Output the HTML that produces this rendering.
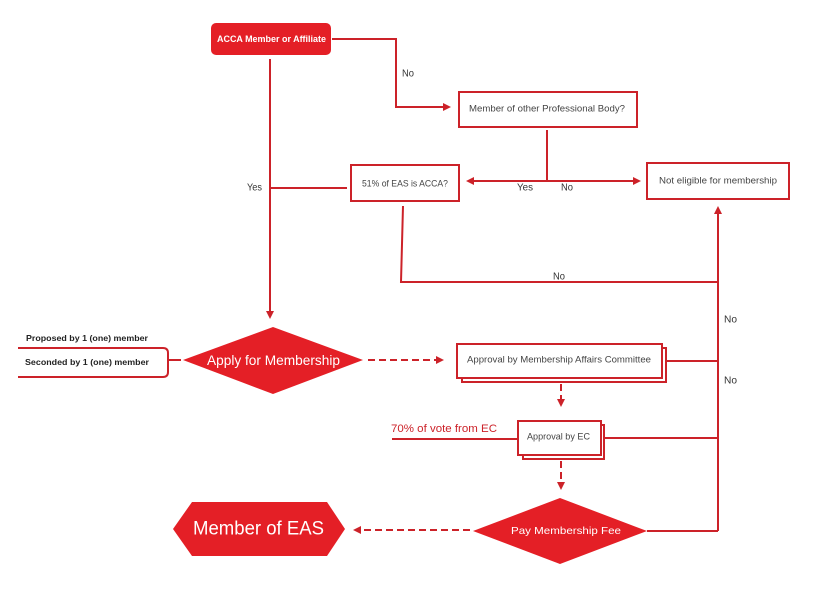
<!DOCTYPE html>
<html><head><meta charset="utf-8"><style>
html,body{margin:0;padding:0;background:#fff;}
svg{display:block;}
text{font-family:"Liberation Sans",sans-serif;}
</style></head><body>
<svg width="818" height="600" viewBox="0 0 818 600" xmlns="http://www.w3.org/2000/svg">
<g fill="none" stroke="#cc2229" stroke-width="2">
  <!-- ACCA to No branch -->
  <polyline points="332,39 396,39 396,107 444,107"/>
  <!-- ACCA down to Apply -->
  <line x1="270" y1="59" x2="270" y2="312"/>
  <!-- 51% to left -->
  <line x1="270" y1="188" x2="347" y2="188"/>
  <!-- other prof body down -->
  <line x1="547" y1="130" x2="547" y2="181"/>
  <line x1="473" y1="181" x2="634" y2="181"/>
  <!-- 51% down & across -->
  <polyline points="403,206 401,282 718,282"/>
  <!-- right vertical -->
  <line x1="718" y1="213" x2="718" y2="531"/>
  <line x1="666" y1="361" x2="718" y2="361"/>
  <line x1="604" y1="438" x2="718" y2="438"/>
  <line x1="647" y1="531" x2="718" y2="531"/>
  <!-- 70% line -->
  <line x1="392" y1="439" x2="518" y2="439"/>
  <!-- bracket -->
  <path d="M18,348 H163 Q168,348 168,353 V372 Q168,377 163,377 H18"/>
  <line x1="168" y1="360" x2="181" y2="360"/>
  <!-- boxes -->
  <rect x="459" y="92" width="178" height="35" fill="#fff"/>
  <rect x="351" y="165" width="108" height="36" fill="#fff"/>
  <rect x="647" y="163" width="142" height="36" fill="#fff"/>
  <rect x="462" y="348" width="204" height="34" fill="#fff"/>
  <rect x="457" y="344" width="205" height="34" fill="#fff"/>
  <rect x="523" y="425" width="81" height="34" fill="#fff"/>
  <rect x="518" y="421" width="83" height="34" fill="#fff"/>
</g>
<g fill="none" stroke="#cc2229" stroke-width="2" stroke-dasharray="7,4">
  <line x1="368" y1="360" x2="437" y2="360"/>
  <line x1="561" y1="384" x2="561" y2="400"/>
  <line x1="561" y1="461" x2="561" y2="483"/>
  <line x1="470" y1="530" x2="360" y2="530"/>
</g>
<g fill="#cc2229">
  <polygon points="451,107 443,103 443,111"/>
  <polygon points="466,181 474,177 474,185"/>
  <polygon points="641,181 633,177 633,185"/>
  <polygon points="718,206 714,214 722,214"/>
  <polygon points="270,319 266,311 274,311"/>
  <polygon points="444,360 436,356 436,364"/>
  <polygon points="561,407 557,399 565,399"/>
  <polygon points="561,490 557,482 565,482"/>
  <polygon points="353,530 361,526 361,534"/>
</g>
<!-- filled shapes -->
<rect x="211" y="23" width="120" height="32" rx="5" fill="#e41f26"/>
<polygon points="183,360 273,327 363,360 273,394" fill="#e41f26"/>
<polygon points="473,531 560,498 647,531 560,564" fill="#e41f26"/>
<polygon points="173,529 192,502 327,502 345,529 327,556 192,556" fill="#e41f26"/>

<!-- texts -->
<g dominant-baseline="central">
<text x="217" y="39" font-size="9" font-weight="bold" fill="#fff" textLength="109" lengthAdjust="spacingAndGlyphs">ACCA Member or Affiliate</text>
<text x="402" y="74" font-size="10" fill="#333" textLength="12" lengthAdjust="spacingAndGlyphs">No</text>
<text x="469" y="109" font-size="9.5" fill="#444" textLength="156" lengthAdjust="spacingAndGlyphs">Member of other Professional Body?</text>
<text x="362" y="184" font-size="9.5" fill="#444" textLength="86" lengthAdjust="spacingAndGlyphs">51% of EAS is ACCA?</text>
<text x="247" y="188" font-size="10" fill="#333" textLength="15" lengthAdjust="spacingAndGlyphs">Yes</text>
<text x="517" y="188" font-size="10" fill="#333" textLength="16" lengthAdjust="spacingAndGlyphs">Yes</text>
<text x="561" y="188" font-size="10" fill="#333" textLength="12" lengthAdjust="spacingAndGlyphs">No</text>
<text x="659" y="181" font-size="9.5" fill="#444" textLength="118" lengthAdjust="spacingAndGlyphs">Not eligible for membership</text>
<text x="553" y="277" font-size="10" fill="#333" textLength="12" lengthAdjust="spacingAndGlyphs">No</text>
<text x="724" y="320" font-size="10" fill="#333" textLength="13" lengthAdjust="spacingAndGlyphs">No</text>
<text x="724" y="381" font-size="10" fill="#333" textLength="13" lengthAdjust="spacingAndGlyphs">No</text>
<text x="467" y="360" font-size="9.5" fill="#444" textLength="184" lengthAdjust="spacingAndGlyphs">Approval by Membership Affairs Committee</text>
<text x="391" y="429" font-size="11" fill="#cc2229" textLength="106" lengthAdjust="spacingAndGlyphs">70% of vote from EC</text>
<text x="527" y="437" font-size="9.5" fill="#444" textLength="63" lengthAdjust="spacingAndGlyphs">Approval by EC</text>
<text x="511" y="531" font-size="10.5" fill="#fff" textLength="110" lengthAdjust="spacingAndGlyphs">Pay Membership Fee</text>
<text x="193" y="529" font-size="19" fill="#fff" textLength="131" lengthAdjust="spacingAndGlyphs">Member of EAS</text>
<text x="207" y="360" font-size="14" fill="#fff" textLength="133" lengthAdjust="spacingAndGlyphs">Apply for Membership</text>
<text x="26" y="338" font-size="8.5" font-weight="bold" fill="#222" textLength="122" lengthAdjust="spacingAndGlyphs">Proposed by 1 (one) member</text>
<text x="25" y="362" font-size="8.5" font-weight="bold" fill="#222" textLength="124" lengthAdjust="spacingAndGlyphs">Seconded by 1 (one) member</text>
</g>
</svg>
</body></html>
